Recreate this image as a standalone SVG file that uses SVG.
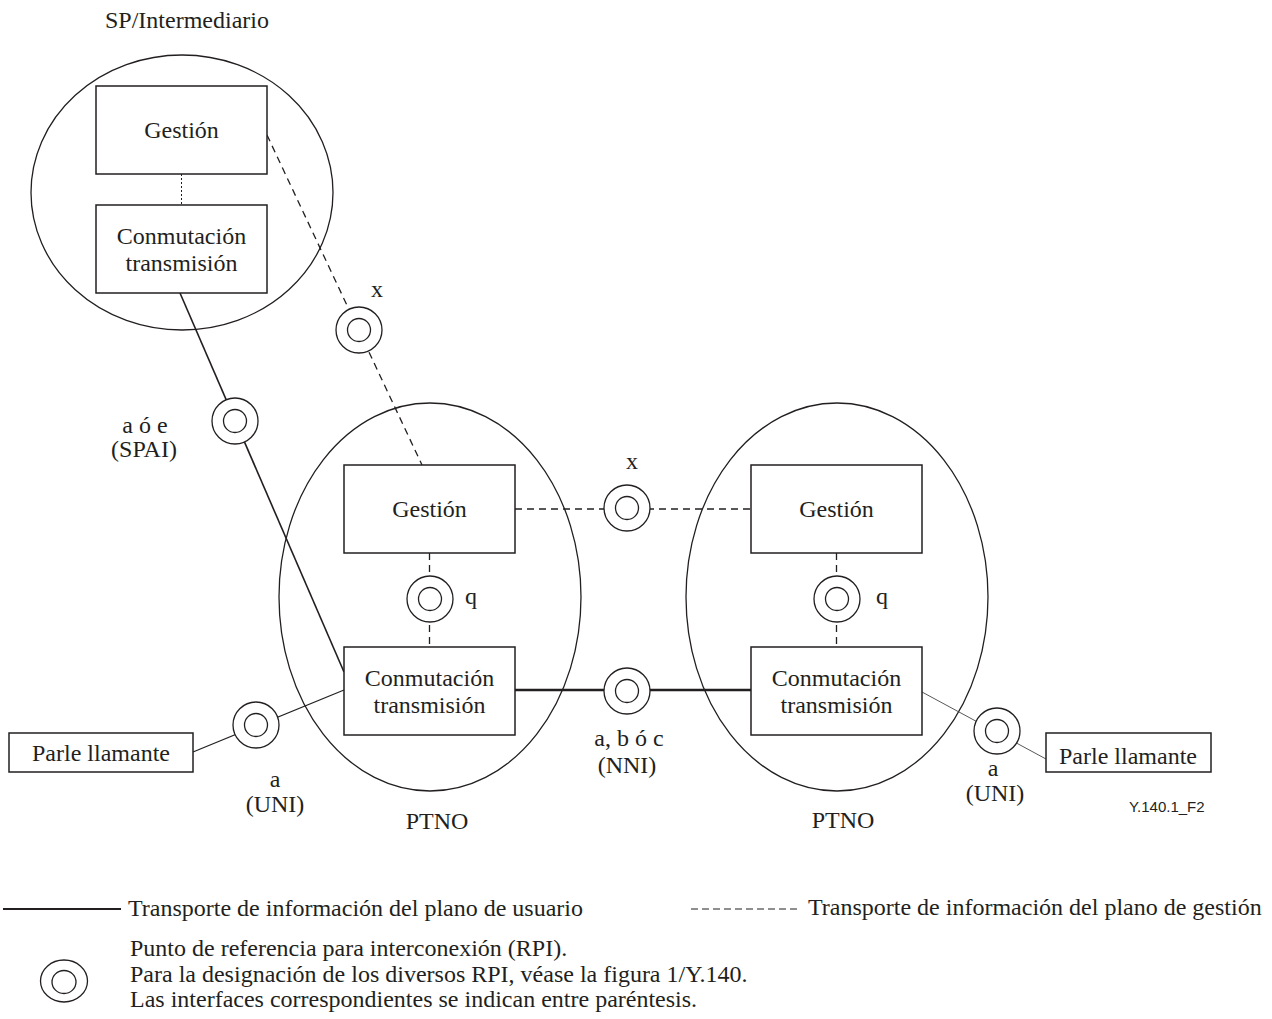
<svg xmlns="http://www.w3.org/2000/svg" width="1272" height="1019" viewBox="0 0 1272 1019">
<style>
text { font-family: "Liberation Serif", "Times New Roman", serif; font-size: 24px; fill: #231f20; }
.c { text-anchor: middle; }
.box { fill: #fff; stroke: #231f20; stroke-width: 1.5; }
.dom { fill: none; stroke: #231f20; stroke-width: 1.3; }
.user { fill: none; stroke: #231f20; stroke-width: 1.6; }
.mgmt { fill: none; stroke: #231f20; stroke-width: 1.3; stroke-dasharray: 7 5; }
.rpi { fill: #fff; stroke: #231f20; stroke-width: 1.3; }
.code { font-family: "Liberation Sans", Arial, sans-serif; font-size: 15px; }
</style>
<defs>
<g id="rpi-sym">
<circle class="rpi" cx="0" cy="0" r="23"/>
<circle class="rpi" cx="0" cy="0" r="11.5"/>
</g>
</defs>

<g id="domain-sp">
<ellipse class="dom" cx="182" cy="192.5" rx="151" ry="137.5"/>
<text x="105" y="28">SP/Intermediario</text>
</g>
<g id="domain-ptno-1">
<ellipse class="dom" cx="430" cy="597" rx="151" ry="194"/>
<text class="c" x="437" y="829">PTNO</text>
</g>
<g id="domain-ptno-2">
<ellipse class="dom" cx="837" cy="597" rx="151" ry="194"/>
<text class="c" x="843" y="828">PTNO</text>
</g>

<g id="connectors">
<line x1="181.5" y1="174" x2="181.5" y2="205" stroke="#231f20" stroke-width="1" stroke-dasharray="2 2"/>
<line class="mgmt" x1="267" y1="135" x2="422" y2="465"/>
<line class="user" x1="180" y1="293" x2="344" y2="672"/>
<line x1="193" y1="752" x2="344" y2="690" stroke="#231f20" stroke-width="1.2"/>
<line x1="515" y1="690" x2="751" y2="690" stroke="#231f20" stroke-width="2.5"/>
<line class="mgmt" x1="515" y1="509" x2="751" y2="509"/>
<line class="mgmt" x1="429.5" y1="553" x2="429.5" y2="647"/>
<line class="mgmt" x1="836.5" y1="553" x2="836.5" y2="647"/>
<line x1="922" y1="692" x2="1046" y2="759" stroke="#444" stroke-width="0.9"/>
</g>

<g id="sp-gestion">
<rect class="box" x="96" y="86" width="171" height="88"/>
<text class="c" x="181.5" y="138">Gestión</text>
</g>
<g id="sp-conmutacion">
<rect class="box" x="96" y="205" width="171" height="88"/>
<text class="c" x="181.5" y="244">Conmutación</text>
<text class="c" x="181.5" y="271">transmisión</text>
</g>
<g id="ptno1-gestion">
<rect class="box" x="344" y="465" width="171" height="88"/>
<text class="c" x="429.5" y="517">Gestión</text>
</g>
<g id="ptno1-conmutacion">
<rect class="box" x="344" y="647" width="171" height="88"/>
<text class="c" x="429.5" y="686">Conmutación</text>
<text class="c" x="429.5" y="713">transmisión</text>
</g>
<g id="ptno2-gestion">
<rect class="box" x="751" y="465" width="171" height="88"/>
<text class="c" x="836.5" y="517">Gestión</text>
</g>
<g id="ptno2-conmutacion">
<rect class="box" x="751" y="647" width="171" height="88"/>
<text class="c" x="836.5" y="686">Conmutación</text>
<text class="c" x="836.5" y="713">transmisión</text>
</g>
<g id="parte-llamante-1">
<rect class="box" x="9" y="733" width="184" height="39"/>
<text class="c" x="101" y="761">Parle llamante</text>
</g>
<g id="parte-llamante-2">
<rect class="box" x="1046" y="733" width="165" height="39"/>
<text class="c" x="1128" y="764">Parle llamante</text>
</g>

<g id="rpi-x-sp">
<use href="#rpi-sym" x="359" y="330"/>
<text class="c" x="377" y="297">x</text>
</g>
<g id="rpi-spai">
<use href="#rpi-sym" x="235" y="421"/>
<text class="c" x="145" y="433">a ó e</text>
<text class="c" x="144" y="457">(SPAI)</text>
</g>
<g id="rpi-x-ptno">
<use href="#rpi-sym" x="627" y="508"/>
<text class="c" x="632" y="469">x</text>
</g>
<g id="rpi-nni">
<use href="#rpi-sym" x="627" y="691"/>
<text class="c" x="629" y="746">a, b ó c</text>
<text class="c" x="627" y="773">(NNI)</text>
</g>
<g id="rpi-q-1">
<use href="#rpi-sym" x="430" y="599"/>
<text class="c" x="471" y="604">q</text>
</g>
<g id="rpi-q-2">
<use href="#rpi-sym" x="837" y="599"/>
<text class="c" x="882" y="604">q</text>
</g>
<g id="rpi-uni-1">
<use href="#rpi-sym" x="256" y="725"/>
<text class="c" x="275" y="787">a</text>
<text class="c" x="275" y="812">(UNI)</text>
</g>
<g id="rpi-uni-2">
<use href="#rpi-sym" x="997" y="731"/>
<text class="c" x="993" y="776">a</text>
<text class="c" x="995" y="801">(UNI)</text>
</g>

<text class="code" x="1129" y="812">Y.140.1_F2</text>

<g id="legend">
<line x1="3" y1="909" x2="121" y2="909" stroke="#231f20" stroke-width="2.2"/>
<text x="128" y="916">Transporte de información del plano de usuario</text>
<line x1="691" y1="909" x2="801" y2="909" stroke="#231f20" stroke-width="1.2" stroke-dasharray="7 4"/>
<text x="808" y="915">Transporte de información del plano de gestión</text>
<ellipse class="rpi" cx="64" cy="981" rx="23.5" ry="21"/>
<ellipse class="rpi" cx="64" cy="982" rx="12" ry="11.5"/>
<text x="130" y="956">Punto de referencia para interconexión (RPI).</text>
<text x="130" y="982">Para la designación de los diversos RPI, véase la figura 1/Y.140.</text>
<text x="130" y="1007">Las interfaces correspondientes se indican entre paréntesis.</text>
</g>
</svg>
